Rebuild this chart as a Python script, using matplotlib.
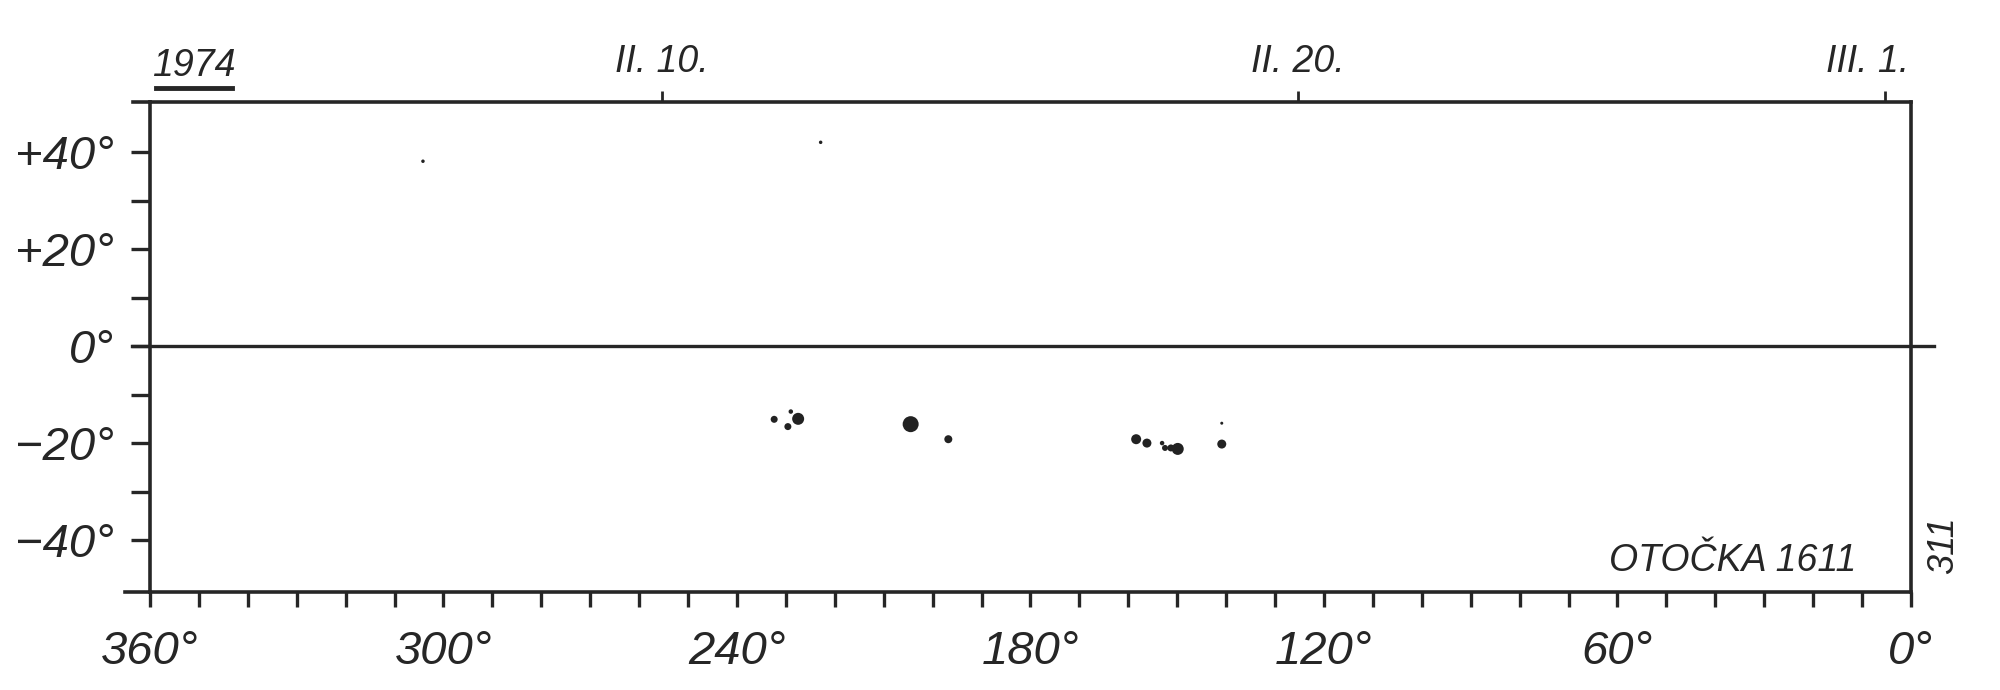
import matplotlib
matplotlib.use("Agg")
import matplotlib.pyplot as plt
from matplotlib.lines import Line2D
import matplotlib.transforms as mtransforms
import numpy as np

# sunspot positions (Carrington longitude, latitude)
spot_lon = [304.2, 222.9, 232.4, 229.0, 229.6, 227.5, 204.5, 196.8,
            158.4, 156.2, 153.1, 152.5, 151.3, 149.9, 140.9, 140.9]
spot_lat = [38.1, 42.0, -15.1, -13.5, -16.6, -15.0, -16.1, -19.2,
            -19.2, -20.0, -20.0, -21.0, -21.0, -21.2, -15.9, -20.2]
# apparent spot diameter on the sheet (px)
spot_diam = [3.5, 3.5, 7, 4.5, 7, 12, 16, 8,
             10, 9, 4.5, 6, 7, 12, 3, 9]

lon_ticks = [360, 300, 240, 180, 120, 60, 0]
lon_labels = ["360°", "300°", "240°", "180°", "120°", "60°", "0°"]
lat_ticks = [40, 20, 0, -20, -40]
lat_labels = ["+40°", "+20°", "0°", "−20°", "−40°"]

date_lon = [255.3, 125.3, 5.3]
date_labels = ["II. 10.", "II. 20.", "III. 1."]

INK = "#262626"
LW = 2.6
FONT = "Liberation Sans"

fig = plt.figure(figsize=(20, 6.9), dpi=100)
ax = fig.add_axes([0.075, 0.142, 0.8805, 0.7101])
ax.set_xlim(360, 0)
ax.set_ylim(-50.7, 50.3)

for sp in ax.spines.values():
    sp.set_color(INK)
    sp.set_linewidth(LW)

# bottom longitude ticks
ax.set_xticks(lon_ticks)
ax.set_xticklabels(lon_labels, fontsize=34, style="italic", family=FONT, color=INK)
ax.set_xticks(np.arange(0, 361, 10), minor=True)
ax.tick_params(axis="x", which="both", direction="out", length=11, width=2.4,
               color=INK, pad=16)

# left latitude ticks
ax.set_yticks(lat_ticks)
ax.set_yticklabels(lat_labels, fontsize=34, style="italic", family=FONT, color=INK)
ax.set_yticks([30, 10, -10, -30], minor=True)
ax.tick_params(axis="y", which="both", direction="out", length=14, width=2.4,
               color=INK, pad=12)

# date scale on top
sec = ax.secondary_xaxis("top")
sec.set_xticks(date_lon)
sec.set_xticklabels(date_labels, fontsize=27, style="italic", family=FONT, color=INK)
sec.tick_params(direction="out", length=8, width=2, color=INK, pad=8)
sec.spines["top"].set_visible(False)
shift = mtransforms.ScaledTranslation(-0.18, 0, fig.dpi_scale_trans)
lab = sec.get_xticklabels()[-1]
lab.set_transform(lab.get_transform() + shift)

# equator and frame overhangs
ax.plot([-0.01, 1.013], [0, 0], transform=ax.get_yaxis_transform(),
        color=INK, lw=2.4, clip_on=False)
ax.plot([-0.0097, 0], [1, 1], transform=ax.transAxes, color=INK, lw=LW, clip_on=False)
ax.plot([-0.014, 0], [0, 0], transform=ax.transAxes, color=INK, lw=LW, clip_on=False)

# spots
s = (np.array(spot_diam) * 72 / 100) ** 2
ax.scatter(spot_lon, spot_lat, s=s, color="#222222", edgecolors="none", zorder=3)

ax.text(0.969, 0.063, "OTOČKA 1611", transform=ax.transAxes, ha="right", va="center",
        fontsize=27, style="italic", family=FONT, color=INK)

fig.text(0.097, 0.905, "1974", ha="center", va="center", fontsize=27,
         style="italic", family=FONT, color=INK)
fig.add_artist(Line2D([0.078, 0.116], [0.872, 0.872], transform=fig.transFigure,
                      color=INK, lw=3.5))
fig.text(0.972, 0.21, "311", ha="center", va="center", rotation=90, fontsize=26,
         style="italic", family=FONT, color=INK)

fig.savefig("out.png", dpi=100, facecolor="white")
